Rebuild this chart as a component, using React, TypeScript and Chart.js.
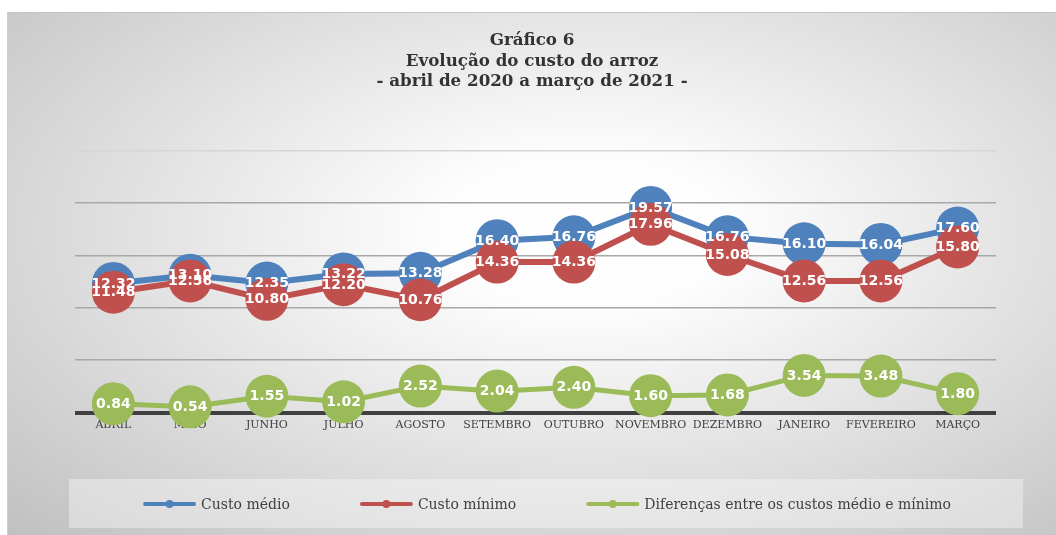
import React, { useEffect, useRef } from "react";
import { Chart, registerables } from "chart.js";

Chart.register(...registerables);

const months = ["ABRIL", "MAIO", "JUNHO", "JULHO", "AGOSTO", "SETEMBRO", "OUTUBRO", "NOVEMBRO", "DEZEMBRO", "JANEIRO", "FEVEREIRO", "MARÇO"];
const custoMedio = [12.32, 13.10, 12.35, 13.22, 13.28, 16.40, 16.76, 19.57, 16.76, 16.10, 16.04, 17.60];
const custoMinimo = [11.48, 12.56, 10.80, 12.20, 10.76, 14.36, 14.36, 17.96, 15.08, 12.56, 12.56, 15.80];
const diferencas = [0.84, 0.54, 1.55, 1.02, 2.52, 2.04, 2.40, 1.60, 1.68, 3.54, 3.48, 1.80];
const seriesNames = ["Custo médio", "Custo mínimo", "Diferenças entre os custos médio e mínimo"];
const titleLines = ["Gráfico 6", "Evolução do custo do arroz", "- abril de 2020 a março de 2021 -"];
const yTicks = { min: 0, max: 25, step: 5 };

const BLUE = "#4F81BD";
const RED = "#C0504D";
const GREEN = "#9BBB59";

const dataLabelPlugin = {
  id: "dataLabels",
  afterDatasetsDraw(chart: any) {
    const ctx = chart.ctx;
    ctx.save();
    ctx.font = "bold 14px 'DejaVu Sans'";
    ctx.fillStyle = "#ffffff";
    ctx.textAlign = "center";
    ctx.textBaseline = "middle";
    chart.data.datasets.forEach((ds: any, di: number) => {
      const meta = chart.getDatasetMeta(di);
      meta.data.forEach((pt: any, i: number) => {
        ctx.fillText(Number(ds.data[i]).toFixed(2), pt.x, pt.y + 0.5);
      });
    });
    ctx.restore();
  },
};

const customLegendPlugin = {
  id: "customLegend",
  afterDraw(chart: any) {
    const ctx = chart.ctx;
    ctx.save();
    const boxL = 61, boxR = 1015, boxT = 466, boxB = 515;
    ctx.fillStyle = "rgba(255,255,255,0.36)";
    ctx.fillRect(boxL, boxT, boxR - boxL, boxB - boxT);
    ctx.font = "14px 'DejaVu Serif'";
    const lineLen = 53, gap = 5, spacing = 70;
    const items = chart.data.datasets.map((ds: any) => ({
      label: ds.label,
      color: ds.borderColor,
      w: lineLen + gap + ctx.measureText(ds.label).width,
    }));
    const total = items.reduce((s: number, it: any) => s + it.w, 0) + spacing * (items.length - 1);
    let x = (boxL + boxR) / 2 - total / 2 + 1;
    const y = 491;
    items.forEach((it: any) => {
      ctx.strokeStyle = it.color;
      ctx.lineWidth = 4;
      ctx.lineCap = "round";
      ctx.beginPath();
      ctx.moveTo(x + 2, y);
      ctx.lineTo(x + lineLen - 2, y);
      ctx.stroke();
      ctx.fillStyle = it.color;
      ctx.beginPath();
      ctx.arc(x + lineLen / 2, y, 4, 0, Math.PI * 2);
      ctx.fill();
      ctx.fillStyle = "#404040";
      ctx.textAlign = "left";
      ctx.textBaseline = "middle";
      ctx.fillText(it.label, x + lineLen + gap, y + 1);
      x += it.w + spacing;
    });
    ctx.restore();
  },
};

export default function App() {
  const ref = useRef<HTMLCanvasElement | null>(null);
  useEffect(() => {
    if (!ref.current) return;
    const mk = (label: string, data: number[], color: string, order: number, lw: number) => ({
      label,
      data,
      borderColor: color,
      backgroundColor: color,
      pointBackgroundColor: color,
      pointBorderColor: color,
      pointBorderWidth: 0,
      pointRadius: 21.5,
      pointHoverRadius: 21.5,
      borderWidth: lw,
      tension: 0,
      order,
      clip: false as any,
      yAxisID: "y",
    });
    const chart = new Chart(ref.current, {
      type: "line",
      data: {
        labels: months,
        datasets: [
          mk(seriesNames[0], custoMedio, BLUE, 2, 6),
          mk(seriesNames[1], custoMinimo, RED, 1, 6),
          mk(seriesNames[2], diferencas, GREEN, 0, 5),
        ],
      },
      plugins: [dataLabelPlugin, customLegendPlugin],
      options: {
        animation: false,
        responsive: false,
        maintainAspectRatio: false,
        layout: { padding: { left: 0, right: 0, top: 0, bottom: 97.3 } },
        plugins: {
          legend: { display: false },
          tooltip: { enabled: false },
          title: {
            display: true,
            text: titleLines,
            color: "#333333",
            font: { family: "DejaVu Serif", size: 16.7, weight: "bold", lineHeight: 1.228 },
            padding: { top: 17.75, bottom: 58.25 },
          },
        },
        scales: {
          x: {
            offset: true,
            z: 1,
            grid: { display: false, drawTicks: false },
            border: { display: false },
            ticks: {
              color: "#404040",
              font: { family: "DejaVu Serif", size: 11 },
              padding: 6,
              maxRotation: 0,
              autoSkip: false,
            },
          },
          y: {
            min: yTicks.min,
            max: yTicks.max,
            position: "left",
            ticks: { display: false, stepSize: yTicks.step },
            border: { display: false },
            grid: {
              drawTicks: false,
              color: (c: any) => (c.tick.value === 0 ? "#404040" : c.tick.value === 25 ? "#d6d6d6" : "#a8a8a8"),
              lineWidth: (c: any) => (c.tick.value === 0 ? 4 : 1.5),
            },
            afterFit: (axis: any) => {
              axis.width = 67;
            },
          },
          y2: {
            position: "right",
            display: true,
            ticks: { display: false },
            grid: { display: false, drawTicks: false },
            border: { display: false },
            afterFit: (axis: any) => {
              axis.width = 60;
            },
          },
        },
      } as any,
    });
    return () => chart.destroy();
  }, []);
  return (
    <div
      style={{
        position: "absolute",
        left: 7,
        top: 12,
        width: 1049,
        height: 523,
        borderTop: "1px solid #c4c4c4",
        borderLeft: "1px solid #cfcfcf",
        boxSizing: "border-box",
        background: "radial-gradient(ellipse farthest-corner at 55% 42%, #ffffff 0%, #fdfdfd 18%, #c0c0c0 100%)",
      }}
    >
      <canvas ref={ref} width={1048} height={522} style={{ display: "block" }} />
    </div>
  );
}
